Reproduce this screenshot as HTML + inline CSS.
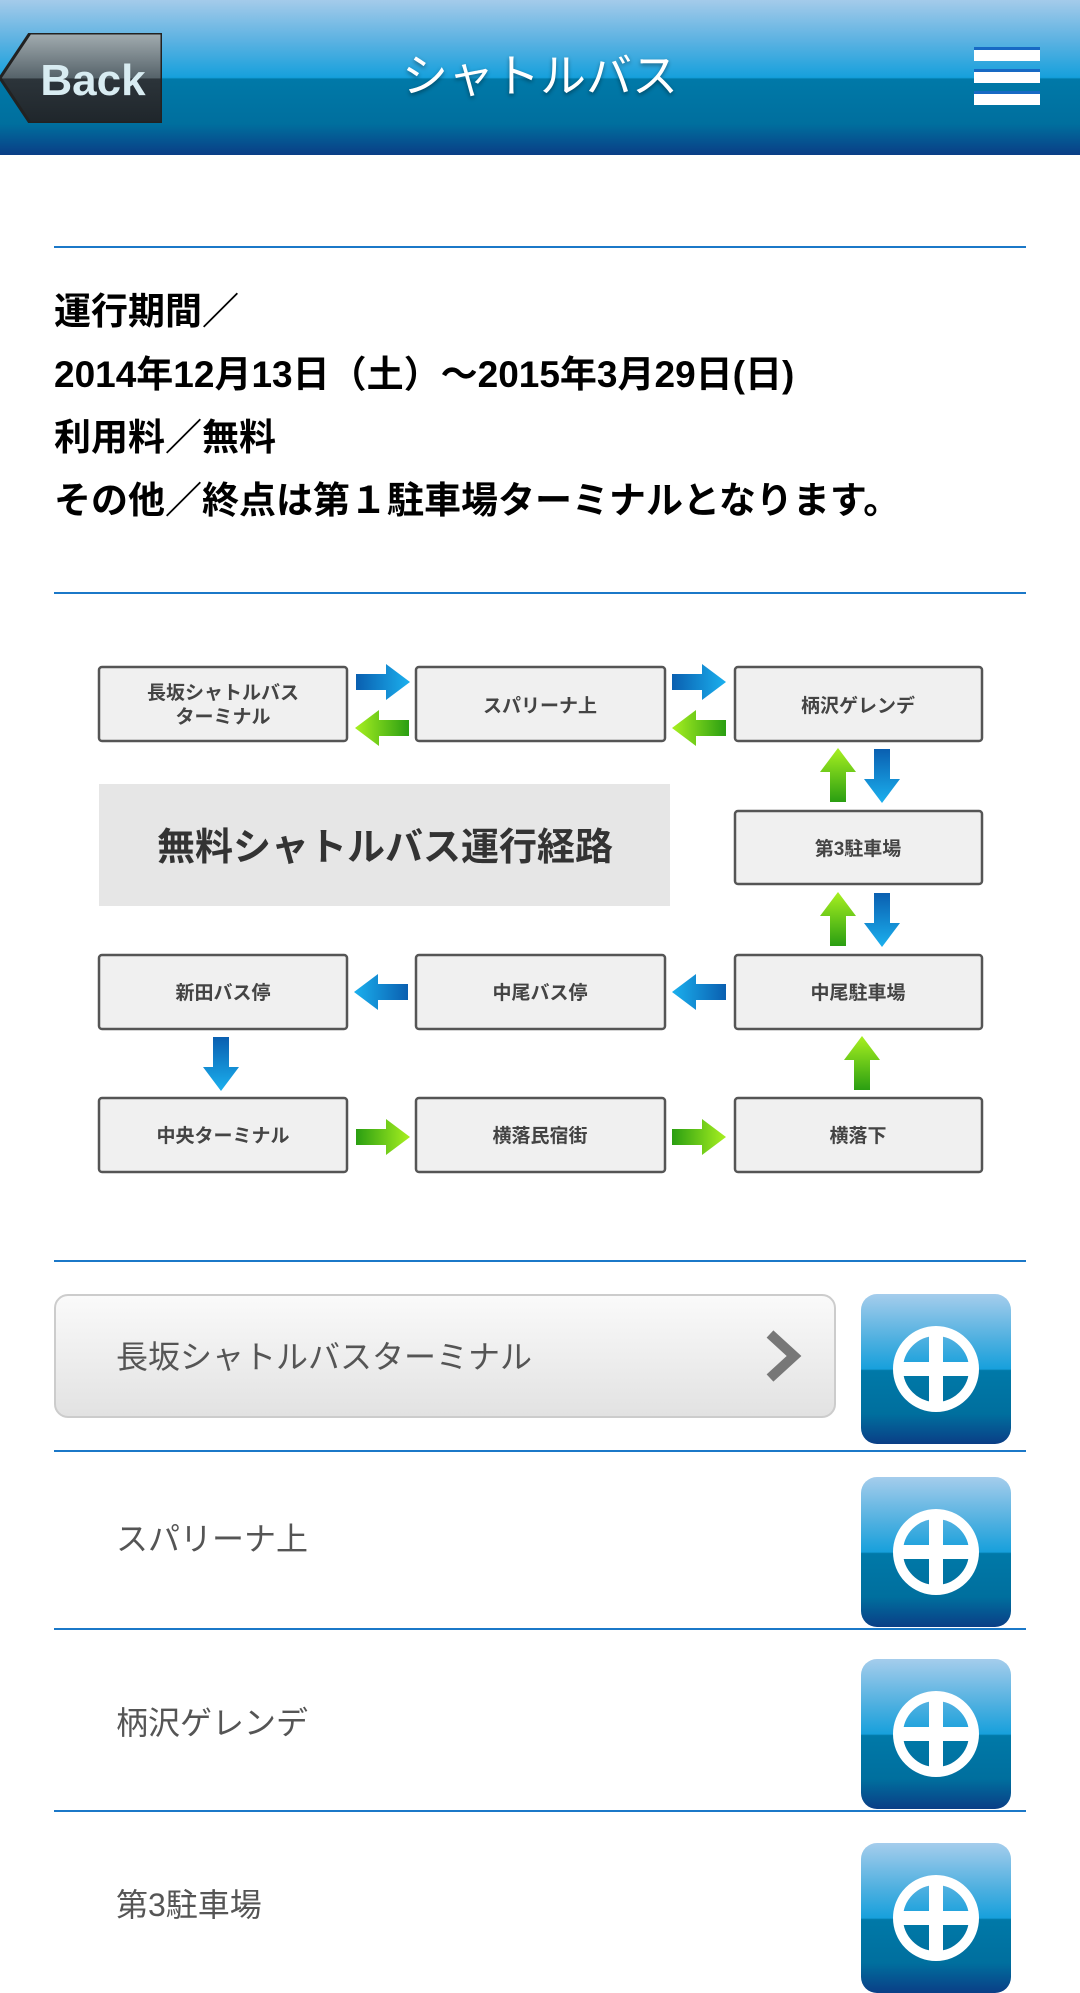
<!DOCTYPE html>
<html><head><meta charset="utf-8">
<style>
*{margin:0;padding:0;box-sizing:border-box}
body{width:1080px;height:1920px;overflow:hidden;background:#fff;font-family:"Liberation Sans","Noto Sans CJK JP",sans-serif;position:relative}
.hdr{position:absolute;left:0;top:0;width:1080px;height:155px;background:linear-gradient(#a4cbea 0%,#5fb3e2 25%,#16a0dc 50%,#0079a8 51%,#006f9e 80%,#0a3e86 100%);}
.back{position:absolute;left:0;top:33px;width:162px;height:90px}
.title{position:absolute;left:0;width:1080px;top:40px;text-align:center;color:#fff;font-size:46px;text-shadow:0 2px 4px rgba(0,0,0,.4)}
.hb{position:absolute;left:974px;width:66px;height:14px;background:#fff;border-top:3px solid #1869c4}
.line{position:absolute;left:54px;width:972px;height:2px;background:#1b78c8}
.info{position:absolute;left:54px;top:280px;font-size:37px;font-weight:bold;line-height:63px;color:#000}
.btn{position:absolute;left:54px;top:1294px;width:782px;height:124px;border:2px solid #ccc;border-radius:14px;background:linear-gradient(#fafafa,#e2e2e2)}
.lt{position:absolute;left:116px;font-size:32px;color:#555}
.ic{position:absolute;left:861px;width:150px;height:150px;border-radius:16px;background:linear-gradient(#a5cdec 0%,#4fb0e0 30%,#17a0dc 50%,#0079a8 51%,#006f9e 80%,#0a3e86 100%)}
.ic svg{position:absolute;left:0;top:0}
</style></head><body>
<div class="hdr"></div>
<svg class="back" viewBox="0 0 162 90"><defs><linearGradient id="bg" x1="0" y1="0" x2="0" y2="1"><stop offset="0" stop-color="#a3adb1"/><stop offset=".5" stop-color="#56636a"/><stop offset=".51" stop-color="#2c343a"/><stop offset="1" stop-color="#1f262b"/></linearGradient></defs><polygon points="30,0 162,0 162,90 30,90 0,45" fill="url(#bg)" stroke="#222" stroke-width="3"/><text x="93" y="62" text-anchor="middle" font-size="44" font-weight="bold" fill="#d8ecf2" font-family="Liberation Sans,sans-serif">Back</text></svg>
<div class="title">シャトルバス</div>
<div class="hb" style="top:47px"></div><div class="hb" style="top:69px"></div><div class="hb" style="top:91px"></div>
<div class="line" style="top:246px"></div>
<div class="info">運行期間／<br>2014年12月13日（土）～2015年3月29日(日)<br>利用料／無料<br>その他／終点は第１駐車場ターミナルとなります。</div>
<div class="line" style="top:592px"></div>
<svg style="position:absolute;left:0;top:0" width="1080" height="1300" font-family="Liberation Sans,Noto Sans CJK JP,sans-serif">
<defs>
<linearGradient id="bl" x1="0" y1="0" x2="1" y2="0"><stop offset="0" stop-color="#0a5fb0"/><stop offset="1" stop-color="#1bb0ee"/></linearGradient>
<linearGradient id="gr" x1="0" y1="0" x2="1" y2="0"><stop offset="0" stop-color="#2a9e12"/><stop offset="1" stop-color="#a8f020"/></linearGradient>
<polygon id="ar" points="0,10 30,10 30,0 54,18 30,36 30,26 0,26"/>
</defs>
<g fill="#f0f0f0" stroke="#555" stroke-width="2.5">
<rect x="99" y="667" width="248" height="74" rx="3"/><rect x="416" y="667" width="249" height="74" rx="3"/><rect x="735" y="667" width="247" height="74" rx="3"/>
<rect x="735" y="811" width="247" height="73" rx="3"/>
<rect x="99" y="955" width="248" height="74" rx="3"/><rect x="416" y="955" width="249" height="74" rx="3"/><rect x="735" y="955" width="247" height="74" rx="3"/>
<rect x="99" y="1098" width="248" height="74" rx="3"/><rect x="416" y="1098" width="249" height="74" rx="3"/><rect x="735" y="1098" width="247" height="74" rx="3"/>
</g>
<rect x="99" y="784" width="571" height="122" fill="#e6e6e6"/>
<text x="385" y="860" text-anchor="middle" font-size="38" font-weight="bold" fill="#333">無料シャトルバス運行経路</text>
<g font-size="19" font-weight="bold" fill="#444" text-anchor="middle">
<text x="223" y="699">長坂シャトルバス</text><text x="223" y="723">ターミナル</text>
<text x="540" y="712">スパリーナ上</text><text x="858" y="712">柄沢ゲレンデ</text>
<text x="858" y="855">第3駐車場</text>
<text x="223" y="999">新田バス停</text><text x="540" y="999">中尾バス停</text><text x="858" y="999">中尾駐車場</text>
<text x="223" y="1142">中央ターミナル</text><text x="540" y="1142">横落民宿街</text><text x="858" y="1142">横落下</text>
</g>
<use href="#ar" fill="url(#bl)" transform="translate(356,664)"/>
<use href="#ar" fill="url(#bl)" transform="translate(672,664)"/>
<use href="#ar" fill="url(#gr)" transform="translate(409,746) rotate(180)"/>
<use href="#ar" fill="url(#gr)" transform="translate(726,746) rotate(180)"/>
<use href="#ar" fill="url(#gr)" transform="translate(820,802) rotate(-90)"/>
<use href="#ar" fill="url(#bl)" transform="translate(900,749) rotate(90)"/>
<use href="#ar" fill="url(#gr)" transform="translate(820,946) rotate(-90)"/>
<use href="#ar" fill="url(#bl)" transform="translate(900,893) rotate(90)"/>
<use href="#ar" fill="url(#bl)" transform="translate(408,1010) rotate(180)"/>
<use href="#ar" fill="url(#bl)" transform="translate(726,1010) rotate(180)"/>
<use href="#ar" fill="url(#bl)" transform="translate(239,1037) rotate(90)"/>
<use href="#ar" fill="url(#gr)" transform="translate(844,1090) rotate(-90)"/>
<use href="#ar" fill="url(#gr)" transform="translate(356,1119)"/>
<use href="#ar" fill="url(#gr)" transform="translate(672,1119)"/>
</svg>
<div class="line" style="top:1260px"></div>
<div class="btn"></div>
<div class="lt" style="top:1332px">長坂シャトルバスターミナル</div>
<svg style="position:absolute;left:762px;top:1330px" width="42" height="52"><polyline points="8,4 32,26 8,48" fill="none" stroke="#777" stroke-width="10"/></svg>
<div class="line" style="top:1450px"></div>
<div class="lt" style="top:1514px">スパリーナ上</div>
<div class="line" style="top:1628px"></div>
<div class="lt" style="top:1698px">柄沢ゲレンデ</div>
<div class="line" style="top:1810px"></div>
<div class="lt" style="top:1880px">第3駐車場</div>
<div class="ic" style="top:1294px"><svg width="150" height="150"><circle cx="75" cy="75" r="38" fill="none" stroke="#fff" stroke-width="10"/><rect x="68" y="35" width="14" height="80" fill="#fff"/><rect x="35" y="68" width="80" height="14" fill="#fff"/></svg></div>
<div class="ic" style="top:1477px"><svg width="150" height="150"><circle cx="75" cy="75" r="38" fill="none" stroke="#fff" stroke-width="10"/><rect x="68" y="35" width="14" height="80" fill="#fff"/><rect x="35" y="68" width="80" height="14" fill="#fff"/></svg></div>
<div class="ic" style="top:1659px"><svg width="150" height="150"><circle cx="75" cy="75" r="38" fill="none" stroke="#fff" stroke-width="10"/><rect x="68" y="35" width="14" height="80" fill="#fff"/><rect x="35" y="68" width="80" height="14" fill="#fff"/></svg></div>
<div class="ic" style="top:1843px"><svg width="150" height="150"><circle cx="75" cy="75" r="38" fill="none" stroke="#fff" stroke-width="10"/><rect x="68" y="35" width="14" height="80" fill="#fff"/><rect x="35" y="68" width="80" height="14" fill="#fff"/></svg></div>
</body></html>
